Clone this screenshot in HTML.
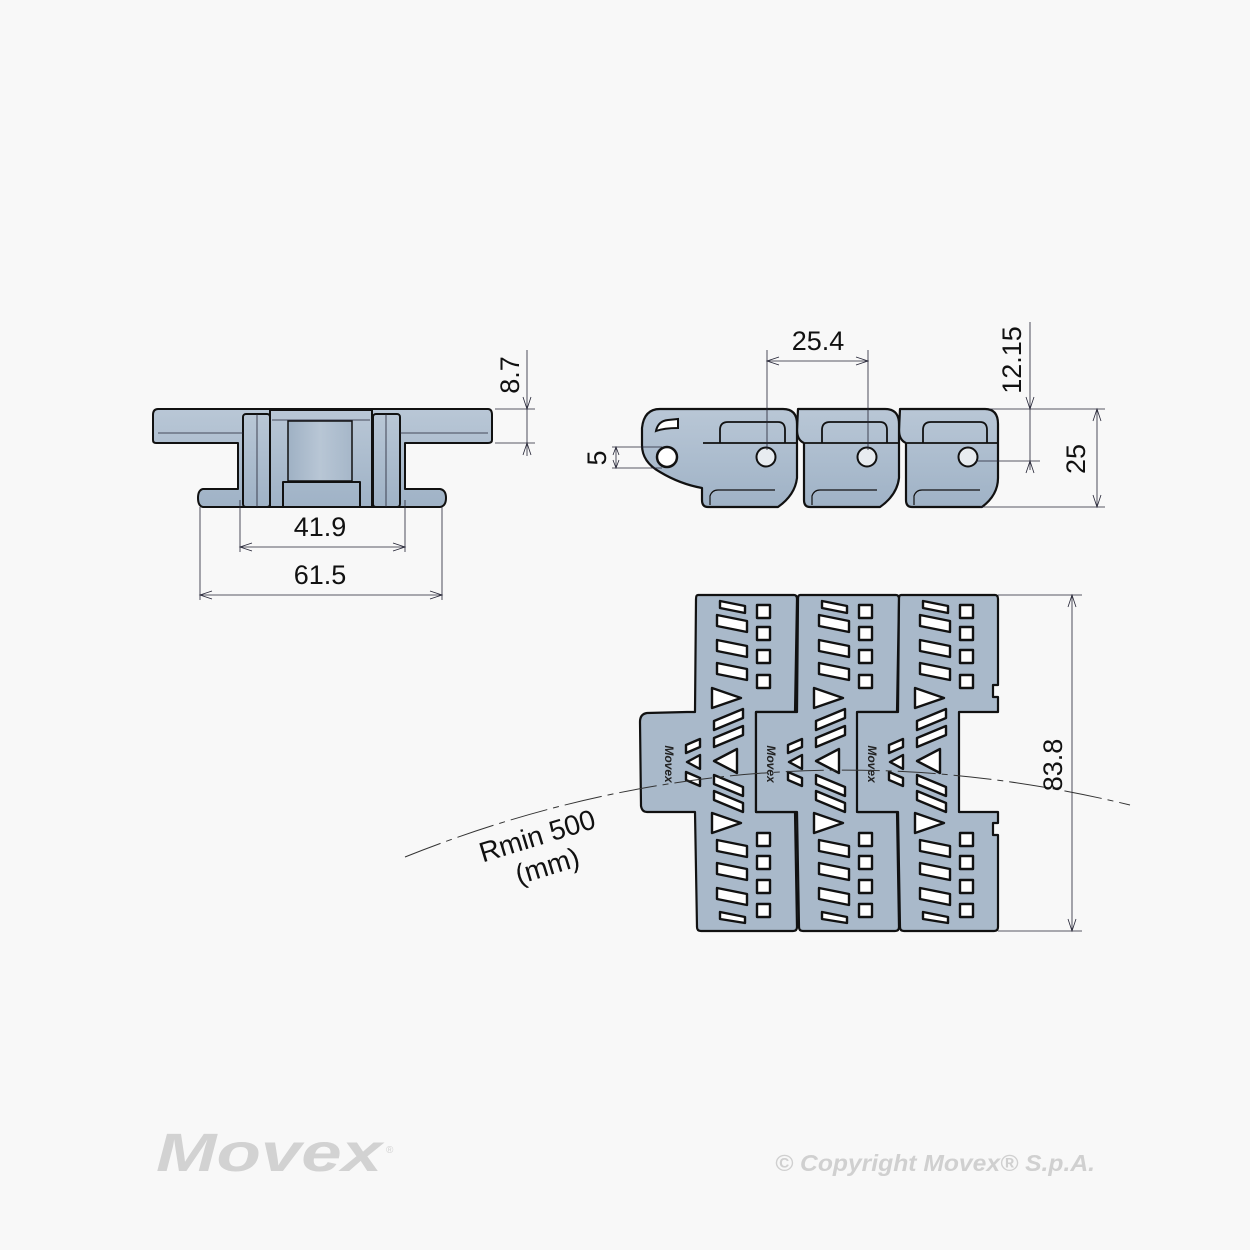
<!DOCTYPE html>
<html><head><meta charset="utf-8"><style>
html,body{margin:0;padding:0;background:#f8f8f8;}
svg{display:block;}
text{font-family:"Liberation Sans",sans-serif;}
</style></head><body>
<svg width="1250" height="1250" viewBox="0 0 1250 1250" xmlns="http://www.w3.org/2000/svg">
<defs>
<linearGradient id="g1" x1="0" y1="0" x2="0" y2="1">
<stop offset="0" stop-color="#b9c7d6"/><stop offset="1" stop-color="#9fb2c6"/></linearGradient>
<linearGradient id="g2" x1="0" y1="0" x2="1" y2="0">
<stop offset="0" stop-color="#9fb1c4"/><stop offset="0.5" stop-color="#b8c6d5"/><stop offset="1" stop-color="#a6b7c9"/></linearGradient>
<g id="holes" fill="#fff" stroke="#111" stroke-width="2.4" stroke-linejoin="round">
 <polygon points="25,601 50,606 50,613 25,608"/>
 <polygon points="22,615 52,621 52,632 22,626"/>
 <polygon points="22,640 52,646 52,657 22,651"/>
 <polygon points="22,663 52,669 52,680 22,674"/>
 <polygon points="17,688 46,698 17,708"/>
 <polygon points="19,721 48,709 48,718 19,730"/>
 <polygon points="19,738 48,726 48,735 19,747"/>
 <polygon points="19,761 42,749 42,773"/>
 <polygon points="19,775 48,787 48,796 19,784"/>
 <polygon points="19,791 48,803 48,812 19,800"/>
 <polygon points="17,813 46,823 17,833"/>
 <polygon points="22,840 52,846 52,857 22,851"/>
 <polygon points="22,863 52,869 52,880 22,874"/>
 <polygon points="22,888 52,894 52,905 22,899"/>
 <polygon points="25,912 50,917 50,923 25,919"/>
 <rect x="62" y="605" width="13" height="13"/>
 <rect x="62" y="627" width="13" height="13"/>
 <rect x="62" y="650" width="13" height="13"/>
 <rect x="62" y="675" width="13" height="13"/>
 <rect x="62" y="833" width="13" height="13"/>
 <rect x="62" y="856" width="13" height="13"/>
 <rect x="62" y="880" width="13" height="13"/>
 <rect x="62" y="904" width="13" height="13"/>
 <polygon points="-9,745 5,739 5,747 -9,753"/>
 <polygon points="-8,762 5,755 5,769"/>
 <polygon points="-9,772 5,778 5,786 -9,780"/>
</g>
</defs>

<!-- FRONT VIEW -->
<g stroke="#111" stroke-width="2" fill="url(#g1)" stroke-linejoin="round">
 <path d="M158,409 L488,409 Q492,409 492,415 L492,440 Q492,443 488,443 L405,443 L405,489 L440,489 Q446,490 446,498 Q446,506 440,507 L203,507 Q198,506 198,498 Q198,490 203,489 L238,489 L238,443 L156,443 Q153,443 153,440 L153,415 Q153,409 158,409 Z"/>
 <rect x="243" y="414" width="27" height="93" rx="3"/>
 <rect x="373" y="414" width="27" height="93" rx="3"/>
 <path d="M270,410 L372,410 L372,507 L360,507 L360,482 L283,482 L283,507 L270,507 Z"/>
</g>
<rect x="288" y="421" width="64" height="60" fill="url(#g2)" stroke="#111" stroke-width="1.5"/>
<g stroke="#223" stroke-width="0.8" fill="none">
 <line x1="158" y1="433" x2="243" y2="433"/><line x1="400" y1="433" x2="488" y2="433"/>
 <line x1="272" y1="420" x2="370" y2="420"/>
 <line x1="257" y1="414" x2="257" y2="507"/><line x1="386" y1="414" x2="386" y2="507"/>
 <line x1="240" y1="500" x2="240" y2="552"/><line x1="405" y1="500" x2="405" y2="552"/>
 <line x1="200" y1="507" x2="200" y2="600"/><line x1="442" y1="507" x2="442" y2="600"/>
 <line x1="240" y1="547" x2="405" y2="547"/><line x1="200" y1="595" x2="442" y2="595"/>
 <polyline points="252,543 240,547 252,551"/><polyline points="393,543 405,547 393,551"/>
 <polyline points="212,591 200,595 212,599"/><polyline points="430,591 442,595 430,599"/>
 <line x1="495" y1="409" x2="535" y2="409"/><line x1="495" y1="443" x2="535" y2="443"/>
 <line x1="527" y1="350" x2="527" y2="456"/>
 <polyline points="523,397 527,409 531,397"/><polyline points="523,455 527,443 531,455"/>
</g>
<text x="320" y="536" font-size="27" text-anchor="middle" fill="#111">41.9</text>
<text x="320" y="584" font-size="27" text-anchor="middle" fill="#111">61.5</text>
<text transform="translate(519,375) rotate(-90)" font-size="27" text-anchor="middle" fill="#111">8.7</text>

<!-- SIDE VIEW -->
<g stroke="#111" stroke-width="2.2" fill="url(#g1)" stroke-linejoin="round">
 <path d="M900,409 L985,409 Q998,409 998,424 L998,443 L998,478 Q998,495 982,507 L912,507 Q906,507 906,500 L906,443 Q899,440 899,430 Z"/>
 <path d="M798,409 L885,409 Q899,409 899,424 L899,478 Q897,495 880,507 L810,507 Q804,507 804,500 L804,443 Q797,440 797,430 Z"/>
 <path d="M660,409 L783,409 Q797,409 797,424 L797,478 Q795,495 778,507 L708,507 Q702,507 702,500 L702,488 Q680,484 660,472 Q642,462 642,445 L642,428 Q644,409 660,409 Z"/>
</g>
<g stroke="#111" stroke-width="1.8" fill="none">
 <path d="M703,443 L797,443 M805,443 L899,443 M907,443 L998,443"/>
 <path d="M720,443 L720,430 Q720,422 728,422 L778,422 Q785,422 785,430 L785,443"/>
 <path d="M822,443 L822,430 Q822,422 830,422 L880,422 Q887,422 887,430 L887,443"/>
 <path d="M923,443 L923,430 Q923,422 931,422 L980,422 Q987,422 987,430 L987,443"/>
 <path d="M710,505 L710,496 Q712,490 718,490 L775,490 M812,505 L812,496 Q814,490 820,490 L877,490 M914,505 L914,496 Q916,490 922,490 L980,490" stroke-width="1.2"/>
</g>
<g stroke="#111" stroke-width="2" fill="#e8ecf0">
 <circle cx="766" cy="457" r="9.5"/><circle cx="867" cy="457" r="9.5"/><circle cx="968" cy="457" r="9.5"/>
</g>
<path d="M656,431 Q658,421 668,420 L678,419 L678,428 Q664,428 656,431 Z" fill="#fff" stroke="#111" stroke-width="2"/>
<circle cx="667" cy="457" r="10" fill="#fff" stroke="#111" stroke-width="2.5"/>
<g stroke="#223" stroke-width="0.8" fill="none">
 <line x1="767" y1="350" x2="767" y2="450"/><line x1="868" y1="350" x2="868" y2="450"/>
 <line x1="767" y1="361" x2="868" y2="361"/>
 <polyline points="779,357 767,361 779,365"/><polyline points="856,357 868,361 856,365"/>
 <line x1="990" y1="409" x2="1040" y2="409"/><line x1="976" y1="461" x2="1040" y2="461"/>
 <line x1="1030" y1="322" x2="1030" y2="470"/>
 <polyline points="1026,397 1030,409 1034,397"/><polyline points="1026,473 1030,461 1034,473"/>
 <line x1="1040" y1="409" x2="1105" y2="409"/><line x1="980" y1="507" x2="1105" y2="507"/>
 <line x1="1097" y1="409" x2="1097" y2="507"/>
 <polyline points="1093,421 1097,409 1101,421"/><polyline points="1093,495 1097,507 1101,495"/>
 <line x1="612" y1="447" x2="662" y2="447"/><line x1="612" y1="468" x2="662" y2="468"/>
 <line x1="616" y1="447" x2="616" y2="468"/>
 <polyline points="613,455 616,447 619,455"/><polyline points="613,460 616,468 619,460"/>
</g>
<text x="818" y="350" font-size="27" text-anchor="middle" fill="#111">25.4</text>
<text transform="translate(1021,360) rotate(-90)" font-size="27" text-anchor="middle" fill="#111">12.15</text>
<text transform="translate(1085,459) rotate(-90)" font-size="27" text-anchor="middle" fill="#111">25</text>
<text transform="translate(606,458) rotate(-90)" font-size="27" text-anchor="middle" fill="#111">5</text>

<!-- TOP VIEW -->
<g stroke="#111" stroke-width="2.2" stroke-linejoin="round">
 <g transform="translate(695,0)">
  <path fill="#a9b9ca" d="M3,595 L99,595 Q102,595 102,599 L100,712 L61,712 L61,812 L100,812 L102,927 Q102,931 98,931 L6,931 Q2,931 2,927 L0,812 L-48,812 Q-53,812 -54,806 L-55,722 Q-55,714 -48,713 L-8,712 L0,712 L1,599 Q1,595 3,595 Z"/>
  <use href="#holes"/>
  <text transform="translate(-30,764) rotate(90)" font-size="12" font-weight="bold" font-style="italic" text-anchor="middle" fill="#222" stroke="none" font-family="Liberation Serif">Movex</text>
 </g>
 <g transform="translate(797,0)">
  <path fill="#a9b9ca" d="M3,595 L99,595 Q102,595 102,599 L100,712 L61,712 L61,812 L100,812 L102,927 Q102,931 98,931 L6,931 Q2,931 2,927 L0,812 L-41,812 L-41,712 L0,712 L1,599 Q1,595 3,595 Z"/>
  <use href="#holes"/>
  <text transform="translate(-30,764) rotate(90)" font-size="12" font-weight="bold" font-style="italic" text-anchor="middle" fill="#222" stroke="none" font-family="Liberation Serif">Movex</text>
 </g>
 <g transform="translate(898,0)">
  <path fill="#a9b9ca" d="M3,595 L97,595 Q100,595 100,599 L100,685 L95,685 L95,697 L100,697 L100,712 L61,712 L61,812 L100,812 L100,823 L95,823 L95,835 L100,835 L100,927 Q100,931 96,931 L6,931 Q2,931 2,927 L0,812 L-41,812 L-41,712 L0,712 L1,599 Q1,595 3,595 Z"/>
  <use href="#holes"/>
  <text transform="translate(-30,764) rotate(90)" font-size="12" font-weight="bold" font-style="italic" text-anchor="middle" fill="#222" stroke="none" font-family="Liberation Serif">Movex</text>
 </g>
</g>
<g stroke="#223" stroke-width="0.8" fill="none">
 <line x1="998" y1="595" x2="1082" y2="595"/><line x1="998" y1="931" x2="1082" y2="931"/>
 <line x1="1072" y1="595" x2="1072" y2="931"/>
 <polyline points="1068,607 1072,595 1076,607"/><polyline points="1068,919 1072,931 1076,919"/>
 <path d="M405,857 Q760,715 1130,805" stroke="#333" stroke-width="1" stroke-dasharray="38,6,6,6"/>
</g>
<text x="1062" y="765" transform="rotate(-90,1062,765)" font-size="27" text-anchor="middle" fill="#111">83.8</text>
<text transform="translate(540,845) rotate(-17)" font-size="28" text-anchor="middle" fill="#111">Rmin 500</text>
<text transform="translate(550,875) rotate(-17)" font-size="28" text-anchor="middle" fill="#111">(mm)</text>

<!-- FOOTER -->
<text x="156" y="1171" font-size="54" font-weight="bold" font-style="italic" fill="#d2d2d2" font-family="Liberation Serif" textLength="226" lengthAdjust="spacingAndGlyphs">Movex</text>
<text x="386" y="1153" font-size="10" fill="#d2d2d2">®</text>
<text x="775" y="1171" font-size="23" font-weight="bold" font-style="italic" fill="#d0d0d0" textLength="320" lengthAdjust="spacingAndGlyphs">© Copyright Movex® S.p.A.</text>
</svg>
</body></html>
